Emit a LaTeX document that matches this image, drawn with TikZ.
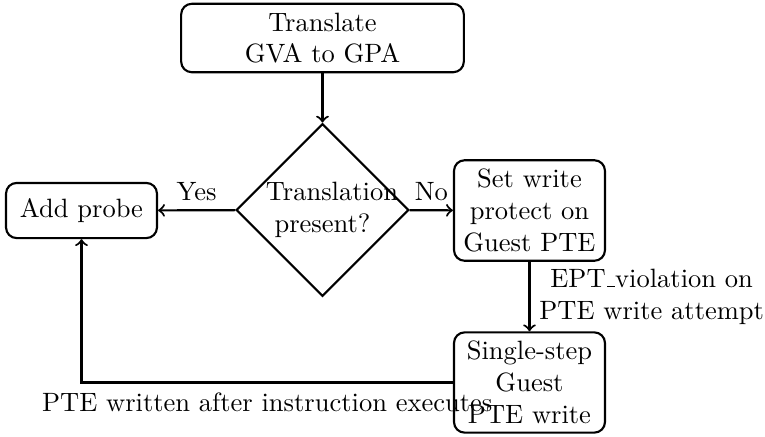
\documentclass[tikz,border=0pt]{standalone}
\usetikzlibrary{shapes.geometric}
% classic low-rule underscore, as set with the OT1 text fonts
\newcommand{\lowrule}{\leavevmode\kern.06em\vbox{\hrule width.3em}}
\begin{document}
\begin{tikzpicture}[x=0.37736pt, y=-0.37736pt, line width=0.8pt,
  flowbox/.style={draw, rounded corners=4pt, align=center, text width=50.3pt, inner sep=3.333pt},
  decision/.style={draw, diamond, aspect=1, text width=1.5cm, align=center, inner sep=0.4pt},
  flow/.style={->}]
\useasboundingbox (0,0) rectangle (765,436);
% process steps
\node[flowbox, text width=100pt] (trans) at (322.5,38) {Translate\\GVA to GPA};
\node[decision] (dec) at (322.5,210) {Translation\\present?};
\node[flowbox, minimum height=20.8pt] (add) at (81.5,210.5) {Add probe};
\node[flowbox] (wp) at (529.5,210.5) {Set write\\protect on\\Guest PTE};
\node[flowbox] (step) at (529.5,382.5) {Single-step\\Guest\\PTE write};
% connectors
\draw[flow] (trans) -- (dec);
\draw[flow] (dec) -- node[above] {Yes} (add);
\draw[flow] (dec) -- node[above] {No} (wp);
\draw[flow] (wp) -- node[right, align=center] {EPT\lowrule violation on\\PTE write attempt} (step);
\draw[flow] (step.west) -| node[pos=0.25, below] {PTE written after instruction executes} (add.south);
\end{tikzpicture}
\end{document}
